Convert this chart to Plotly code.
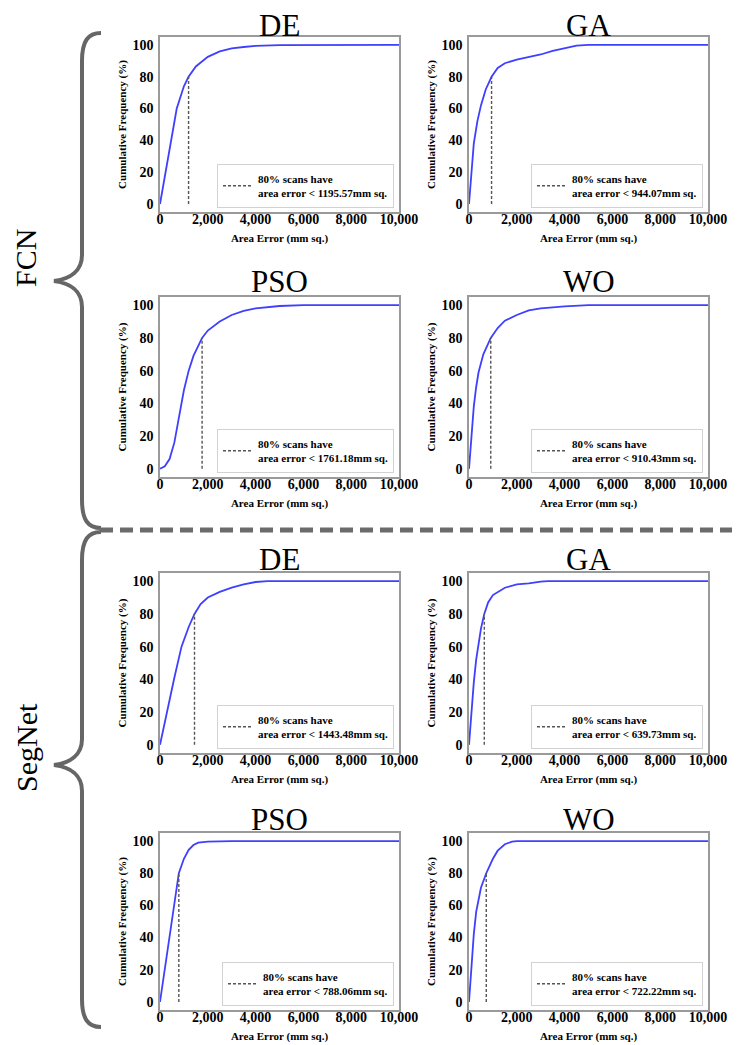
import plotly.graph_objects as go

# page body has an 8px margin, so the figure fills the rest of the 740x1045 window
OFF = 8
W, H = 740 - OFF, 1045 - OFF

# ---------------- data ----------------
panel_titles = ["DE", "GA", "PSO", "WO", "DE", "GA", "PSO", "WO"]
group_labels = ["FCN", "SegNet"]
x_ticks = [0, 2000, 4000, 6000, 8000, 10000]
y_ticks = [0, 20, 40, 60, 80, 100]
threshold_pct = 80
thresholds = [1195.57, 944.07, 1761.18, 910.43, 1443.48, 639.73, 788.06, 722.22]

fcn_de_x = [0, 250, 500, 700, 1000, 1195.57, 1500, 2000, 2500, 3000, 3500, 4000, 5000, 6000, 10000]
fcn_de_y = [0, 21, 44, 60, 74, 80, 86.5, 92.5, 96, 97.8, 98.7, 99.4, 99.9, 100, 100]

fcn_ga_x = [0, 100, 200, 350, 500, 700, 944.07, 1200, 1500, 2000, 2500, 3000, 3500, 4000, 4500, 5000, 10000]
fcn_ga_y = [0, 22, 38, 52, 62, 72, 80, 85.5, 88.5, 90.8, 92.3, 94, 96.3, 97.8, 99.6, 100, 100]

fcn_pso_x = [0, 200, 400, 600, 800, 1000, 1200, 1400, 1761.18, 2000, 2500, 3000, 3500, 4000, 5000, 6000, 10000]
fcn_pso_y = [0, 1.5, 6, 16, 32, 48, 60, 69, 80, 84.5, 90, 94, 96.5, 98, 99.5, 100, 100]

fcn_wo_x = [0, 100, 200, 300, 400, 600, 910.43, 1200, 1500, 2000, 2500, 3000, 4000, 5000, 10000]
fcn_wo_y = [0, 22, 38, 50, 59, 70, 80, 86, 90.5, 94, 96.8, 98, 99.3, 100, 100]

seg_de_x = [0, 300, 600, 900, 1200, 1443.48, 1700, 2000, 2500, 3000, 3500, 4000, 4500, 10000]
seg_de_y = [0, 21, 41, 60, 72, 80, 86, 90, 93.5, 96, 98, 99.5, 100, 100]

seg_ga_x = [0, 100, 200, 300, 400, 500, 639.73, 800, 1000, 1500, 2000, 2500, 3000, 3300, 10000]
seg_ga_y = [0, 20, 38, 52, 62, 71, 80, 87, 91.5, 96, 98, 98.6, 99.7, 100, 100]

seg_pso_x = [0, 200, 400, 600, 788.06, 1000, 1200, 1400, 1600, 2000, 3000, 10000]
seg_pso_y = [0, 21, 41, 61, 80, 89, 94.5, 97.5, 99, 99.7, 100, 100]

seg_wo_x = [0, 100, 200, 300, 500, 722.22, 1000, 1200, 1500, 1800, 2000, 10000]
seg_wo_y = [0, 24, 42, 56, 71, 80, 89, 94, 98, 99.6, 100, 100]

curves_x = [fcn_de_x, fcn_ga_x, fcn_pso_x, fcn_wo_x, seg_de_x, seg_ga_x, seg_pso_x, seg_wo_x]
curves_y = [fcn_de_y, fcn_ga_y, fcn_pso_y, fcn_wo_y, seg_de_y, seg_ga_y, seg_pso_y, seg_wo_y]

# ---------------- layout geometry (window pixels) ----------------
col_px = [(160, 399), (469, 708)]
row_px = [(37, 212), (297, 477), (573, 753), (833, 1010)]
title_cy = [25, 281, 559, 819]

SERIF = "Liberation Serif"


def px(x):
    return (x - OFF) / W


def py(y):
    return 1 - (y - OFF) / H


fig = go.Figure()
layout = dict(
    width=W, height=H, autosize=False,
    margin=dict(l=0, r=0, t=0, b=0),
    template="none",
    paper_bgcolor="white", plot_bgcolor="white",
    font=dict(family=SERIF, color="black"),
    showlegend=True,
)
annotations = []
shapes = []

for i in range(8):
    r, c = divmod(i, 2)
    n = "" if i == 0 else str(i + 1)
    xa, ya = "x" + n, "y" + n
    l, rr = col_px[c]
    t, b = row_px[r]
    leg = "legend" + n

    fig.add_trace(go.Scatter(
        x=curves_x[i], y=curves_y[i], mode="lines",
        line=dict(color="#3f3fff", width=1.8),
        xaxis=xa, yaxis=ya, showlegend=False, hoverinfo="skip"))
    fig.add_trace(go.Scatter(
        x=[thresholds[i], thresholds[i]], y=[0, threshold_pct], mode="lines",
        line=dict(color="#555555", width=1.4, dash="3px,2px"),
        xaxis=xa, yaxis=ya, legend=leg,
        name=f"{threshold_pct}% scans have<br>area error < {thresholds[i]:.2f}mm sq."))

    layout["xaxis" + n] = dict(
        domain=[px(l), px(rr)], anchor=ya, range=[0, 10000],
        tickvals=x_ticks, tickformat=",d",
        tickfont=dict(family=SERIF, size=14, weight="bold"),
        showline=True, mirror=True, linecolor="#9a9a9a", linewidth=1.5,
        ticks="", ticklabelstandoff=-7,
        showgrid=False, zeroline=False, automargin=False,
        title=dict(text="Area Error (mm sq.)", standoff=9,
                   font=dict(family=SERIF, size=11, weight="bold")),
    )
    layout["yaxis" + n] = dict(
        domain=[py(b), py(t)], anchor=xa, range=[-5, 105],
        tickvals=y_ticks,
        tickfont=dict(family=SERIF, size=14, weight="bold"),
        showline=True, mirror=True, linecolor="#9a9a9a", linewidth=1.5,
        ticks="", ticklabelstandoff=2,
        showgrid=False, zeroline=False, automargin=False,
        title=dict(text="Cumulative Frequency (%)", standoff=4,
                   font=dict(family=SERIF, size=11, weight="bold")),
    )
    layout[leg] = dict(
        x=px(rr - 5), y=py(b - 4), xanchor="right", yanchor="bottom",
        bgcolor="white", bordercolor="#d2d2d2", borderwidth=1,
        font=dict(family=SERIF, size=11, weight="bold", color="black"),
        itemwidth=30, tracegroupgap=0,
    )
    annotations.append(dict(
        x=px((l + rr) / 2), y=py(title_cy[r]), xref="paper", yref="paper",
        text=panel_titles[i], showarrow=False, xanchor="center", yanchor="middle",
        font=dict(family=SERIF, size=31, color="black")))

# group labels
annotations.append(dict(x=px(26), y=py(258), xref="paper", yref="paper", text=group_labels[0],
                        showarrow=False, textangle=-90, xanchor="center", yanchor="middle",
                        font=dict(family=SERIF, size=30, color="black")))
annotations.append(dict(x=px(26), y=py(748), xref="paper", yref="paper", text=group_labels[1],
                        showarrow=False, textangle=-90, xanchor="center", yanchor="middle",
                        font=dict(family=SERIF, size=30, color="black")))


def P(x, y):
    return f"{px(x):.5f},{py(y):.5f}"


def brace(top, mid, bottom, xv=82, xt=101, xp=54):
    return (f"M {P(xt, top)} C {P(88, top)} {P(xv, top + 8)} {P(xv, top + 28)} "
            f"L {P(xv, mid - 26)} C {P(xv, mid - 10)} {P(70, mid - 2)} {P(xp, mid)} "
            f"C {P(70, mid + 2)} {P(xv, mid + 10)} {P(xv, mid + 26)} "
            f"L {P(xv, bottom - 28)} C {P(xv, bottom - 8)} {P(88, bottom)} {P(xt, bottom)}")


for (tp, md, bt) in [(33, 281, 528), (532, 765, 1027)]:
    shapes.append(dict(type="path", xref="paper", yref="paper", path=brace(tp, md, bt),
                       line=dict(color="#666666", width=4)))

shapes.append(dict(type="line", xref="paper", yref="paper",
                   x0=px(100), x1=px(740), y0=py(530), y1=py(530),
                   line=dict(color="#6b6b6b", width=5, dash="13px,7px")))

layout["annotations"] = annotations
layout["shapes"] = shapes
fig.update_layout(**layout)

fig.write_html("out.html")
